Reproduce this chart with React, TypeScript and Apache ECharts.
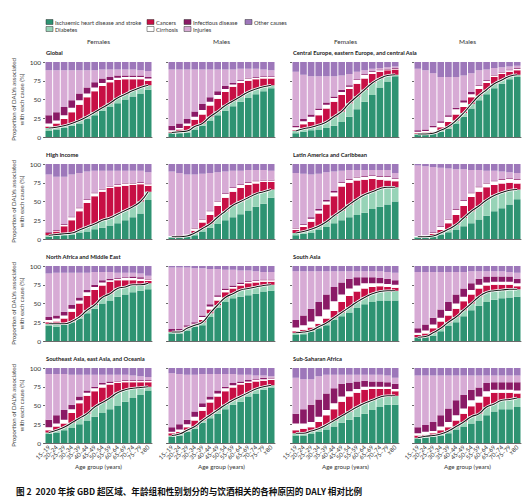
import React, { useEffect, useRef } from "react";
import * as echarts from "echarts";

const AGES = ["15–19","20–24","25–29","30–34","35–39","40–44","45–49","50–54","55–59","60–64","65–69","70–74","75–79","≥80"];
const CAUSES = ["Ischaemic heart disease and stroke","Diabetes","Cancers","Cirrhosis","Infectious disease","Injuries","Other causes"];
const COLORS = ["#2e9372","#97d3b7","#c70f45","#ffffff","#8a1a66","#d7abd5","#9d77ba"];
const SEXES = ["Females","Males"];
const REGIONS = ["Global","Central Europe, eastern Europe, and central Asia","High income","Latin America and Caribbean","North Africa and Middle East","South Asia","Southeast Asia, east Asia, and Oceania","Sub-Saharan Africa"];

// Cumulative tops (%), per age group:
// [IHD & stroke, +Diabetes, +Cancers, +Cirrhosis, +Infectious, +Injuries]; Other causes fill to 100
const GLOBAL_F = [
  [8,10,12,15,18,24,29,35,40,45,50,54,58,63],
  [12,13,15,18,22,27,33,39,45,52,57,62,66,69],
  [14,18,24,33,43,53,61,68,73,76,77,77,77,75],
  [18,22,29,39,49,58,66,72,76,79,80,80,80,78],
  [29,33,40,49,58,66,73,78,80,82,82,82,82,80],
  [89,89,89,89,89,89,89,90,90,90,90,90,89,88],
];
const GLOBAL_M = [
  [5,5,6,10,15,22,29,35,41,47,52,57,61,65],
  [6,7,8,14,18,27,34,42,48,54,60,64,67,69],
  [7,10,15,23,30,42,51,60,67,72,75,77,78,78],
  [9,12,18,27,36,47,56,64,70,75,78,79,80,80],
  [15,18,24,34,44,53,61,68,72,76,79,80,81,81],
  [90,90,90,90,90,90,90,90,90,91,91,91,90,89],
];
const CEECA_F = [
  [5,7,9,10,12,15,20,27,37,47,56,66,74,81],
  [8,11,13,16,20,27,34,45,54,63,72,78,82,83],
  [9,17,20,29,38,47,56,64,71,78,84,87,89,90],
  [13,21,27,36,43,52,60,67,76,83,87,89,90,91],
  [15,24,30,38,46,54,63,69,77,84,88,90,91,92],
  [87,83,81,81,81,81,82,84,87,89,91,92,93,94],
];
const CEECA_M = [
  [3,3,4,7,11,18,27,38,49,57,65,71,77,80],
  [4,4,5,9,14,22,32,44,55,63,71,76,81,83],
  [5,6,7,13,20,30,40,53,64,72,80,84,87,89],
  [7,8,13,19,27,37,46,57,68,75,82,86,89,91],
  [9,10,15,21,29,39,49,60,69,76,83,87,90,92],
  [91,89,85,80,80,80,82,85,89,90,92,93,94,95],
];
const HI_F = [
  [3,4,5,6,8,10,13,15,18,21,25,29,34,52],
  [5,6,7,8,12,16,20,25,28,33,38,43,50,63],
  [8,10,17,25,37,48,57,63,68,70,71,72,73,71],
  [8,11,19,29,41,52,61,66,70,72,74,74,75,73],
  [9,12,20,30,42,53,62,67,71,73,75,75,76,74],
  [86,83,83,86,88,90,91,91,91,91,91,91,91,89],
];
const HI_M = [
  [2,2,3,5,10,15,20,25,29,33,38,43,47,55],
  [3,3,4,8,14,20,29,37,45,50,55,60,63,66],
  [3,3,5,11,22,32,44,55,63,68,72,74,76,76],
  [4,4,6,14,26,37,50,60,68,72,75,77,78,78],
  [4,5,6,15,27,38,51,61,69,73,76,78,79,79],
  [90,88,86,86,87,88,89,90,91,91,92,92,92,91],
];
const LAC_F = [
  [5,7,8,12,16,21,25,29,32,35,40,43,46,50],
  [8,10,13,17,23,31,38,46,53,59,63,67,69,69],
  [12,16,23,34,46,57,70,75,78,79,80,79,78,77],
  [14,19,27,38,50,62,75,79,82,83,84,83,83,80],
  [15,20,29,40,52,64,76,80,83,84,85,84,84,81],
  [88,87,86,87,89,90,91,92,92,92,92,92,92,88],
];
const LAC_M = [
  [2,2,3,6,9,12,17,21,26,31,37,41,46,53],
  [3,3,4,8,13,19,28,37,44,52,58,62,65,66],
  [3,4,7,12,21,32,44,56,63,69,72,74,75,74],
  [4,5,8,16,26,39,51,61,69,74,77,79,80,79],
  [4,5,9,17,27,40,52,62,70,75,78,80,81,80],
  [98,97,96,95,94,93,93,92,92,91,91,90,89,88],
];
const NAME_F = [
  [20,19,22,25,30,37,43,50,54,59,62,65,67,69],
  [23,23,23,26,32,41,48,58,63,70,72,75,75,77],
  [25,26,30,39,50,60,68,74,79,81,81,81,80,80],
  [28,30,34,43,54,65,72,78,81,83,84,84,83,82],
  [32,34,39,48,58,68,75,81,83,84,85,86,85,83],
  [90,91,91,91,91,91,92,92,92,91,91,91,90,87],
];
const NAME_M = [
  [10,10,14,19,21,32,44,52,57,59,61,63,66,67],
  [12,12,17,21,25,37,48,58,63,68,70,72,74,75],
  [13,13,18,22,28,42,54,65,70,74,77,78,79,79],
  [13,14,19,23,32,46,59,68,72,76,79,80,81,81],
  [16,16,21,25,34,49,61,70,74,78,80,81,82,82],
  [98,98,98,97,97,96,96,95,95,94,94,93,92,92],
];
const SA_F = [
  [8,9,12,17,21,28,33,38,44,49,52,54,54,54],
  [11,12,14,19,24,31,38,45,52,58,63,66,67,67],
  [13,15,18,23,30,40,52,60,66,70,72,73,72,71],
  [18,21,26,33,42,53,62,70,74,77,77,77,76,75],
  [28,34,43,52,62,72,78,83,85,85,85,84,83,81],
  [93,93,93,93,93,93,93,93,93,93,93,93,92,91],
];
const SA_M = [
  [4,5,7,13,20,25,33,41,47,52,55,57,58,59],
  [5,6,11,17,25,32,41,50,59,65,67,68,69,69],
  [8,10,17,26,34,43,53,62,70,74,75,75,75,73],
  [11,14,22,31,40,50,59,68,75,78,79,79,79,77],
  [17,22,31,42,52,62,70,77,83,86,86,86,86,83],
  [92,92,92,92,92,92,92,93,93,93,93,93,92,91],
];
const SEAO_F = [
  [12,14,17,20,25,30,35,40,45,50,55,60,64,70],
  [14,17,21,27,33,39,48,54,60,67,71,73,74,75],
  [17,22,26,40,53,63,69,74,78,80,81,81,81,81],
  [21,26,31,45,57,67,73,78,80,82,83,83,83,83],
  [31,37,44,51,62,70,75,80,82,83,84,84,84,84],
  [92,92,92,91,91,91,91,91,91,91,91,90,89,88],
];
const SEAO_M = [
  [8,10,15,19,27,33,39,45,51,55,62,66,71,74],
  [10,12,17,22,30,37,44,51,57,62,67,72,75,77],
  [13,15,21,30,43,54,62,69,74,78,80,82,83,84],
  [15,18,25,35,48,58,66,73,77,80,82,84,85,86],
  [21,25,31,42,53,62,70,75,80,82,84,85,87,87],
  [93,92,91,91,92,92,92,92,92,91,91,90,90,89],
];
const SSA_F = [
  [10,10,12,15,18,22,27,31,35,39,44,48,51,51],
  [13,13,16,19,24,30,36,42,48,53,57,61,63,63],
  [17,19,21,28,37,45,55,62,67,71,72,72,72,69],
  [26,26,28,35,44,53,62,69,72,75,75,75,75,72],
  [39,45,51,58,66,73,79,80,82,83,82,82,81,79],
  [87,85,85,89,91,91,91,91,91,91,91,91,90,87],
];
const SSA_M = [
  [6,7,8,10,13,18,22,26,30,37,42,45,45,48],
  [7,9,10,12,16,22,28,35,39,48,52,57,58,60],
  [10,11,13,17,21,30,39,49,54,62,67,67,67,66],
  [13,15,16,22,28,37,46,57,62,69,71,71,71,70],
  [21,24,28,37,46,57,64,71,74,80,81,81,81,81],
  [90,90,90,90,90,90,90,90,90,90,90,90,90,90],
];

// panel order: row by row, 4 columns (F, M, F, M)
const PANEL_DATA = [GLOBAL_F, GLOBAL_M, CEECA_F, CEECA_M, HI_F, HI_M, LAC_F, LAC_M, NAME_F, NAME_M, SA_F, SA_M, SEAO_F, SEAO_M, SSA_F, SSA_M];

const FONT = "Lato, 'Noto Sans', sans-serif";
const COL_LEFT = [45, 168, 292, 414];
const ROW_TOP = [62, 164, 266, 368];
const PW = 107;
const PH = 75;

function buildOption() {
  const grid: any[] = [];
  const xAxis: any[] = [];
  const yAxis: any[] = [];
  const series: any[] = [];
  PANEL_DATA.forEach((tops, p) => {
    const row = Math.floor(p / 4);
    const col = p % 4;
    grid.push({ left: COL_LEFT[col], top: ROW_TOP[row], width: PW, height: PH, containLabel: false });
    xAxis.push({
      gridIndex: p, type: "category", data: AGES,
      axisLine: { lineStyle: { color: "#444", width: 0.8 } },
      axisTick: { length: 2, alignWithLabel: true, lineStyle: { color: "#444", width: 0.8 } },
      axisLabel: row === 3 ? { interval: 0, rotate: 45, fontSize: 6, color: "#333", margin: 3, fontFamily: FONT } : { show: false },
      name: row === 3 ? "Age group (years)" : "",
      nameLocation: "middle", nameGap: 19,
      nameTextStyle: { fontSize: 6.2, color: "#333", fontFamily: FONT },
    });
    yAxis.push({
      gridIndex: p, type: "value", min: 0, max: 100, interval: 25,
      axisLine: { show: false },
      axisTick: { show: true, length: 2, lineStyle: { color: "#444", width: 0.8 } },
      splitLine: { show: false },
      axisLabel: col === 0 ? { fontSize: 6.5, color: "#333", margin: 4, fontFamily: FONT } : { show: false },
      name: col === 0 ? "Proportion of DALYs associated\nwith each cause (%)" : "",
      nameLocation: "middle", nameGap: 16,
      nameTextStyle: { fontSize: 6, color: "#444", lineHeight: 8, fontFamily: FONT },
    });
    CAUSES.forEach((c, k) => {
      const vals = AGES.map((_, i) => {
        const top = k < 6 ? tops[k][i] : 100;
        const bottom = k === 0 ? 0 : tops[k - 1][i];
        return Math.max(0, top - bottom);
      });
      series.push({
        type: "bar", name: c, xAxisIndex: p, yAxisIndex: p, stack: "s" + p,
        data: vals, barCategoryGap: "13%", itemStyle: { color: COLORS[k] }, silent: true,
      });
    });
    series.push({
      type: "line", xAxisIndex: p, yAxisIndex: p, data: tops[1], smooth: true, symbol: "none",
      lineStyle: { color: "#ffffff", width: 2.6 }, z: 5, silent: true,
    });
    series.push({
      type: "line", xAxisIndex: p, yAxisIndex: p, data: tops[1], smooth: true, symbol: "none",
      lineStyle: { color: "#1a1a1a", width: 1.1 }, z: 6, silent: true,
    });
  });

  const graphics: any[] = [];
  const txt = (text: string, x: number, y: number, o: any = {}) => ({
    type: "text", x, y, silent: true,
    style: { text, fill: o.fill || "#222", fontSize: o.fontSize || 6.5, fontWeight: o.fontWeight || "normal",
      fontFamily: o.fontFamily || FONT, align: o.align || "left", textAlign: o.align || "left",
      verticalAlign: "middle", textVerticalAlign: "middle" },
  });
  // legend
  const legendPos = [
    [46, 22], [46, 29], [147, 22], [147, 29], [184, 22], [184, 29], [245, 22],
  ];
  CAUSES.forEach((c, k) => {
    const [x, y] = legendPos[k];
    graphics.push({ type: "rect", shape: { x: x, y: y - 2.5, width: 7, height: 5 }, silent: true,
      style: { fill: COLORS[k], stroke: "#333", lineWidth: 0.5 } });
    graphics.push(txt(c, x + 9, y, { fontSize: 5.7, fill: "#333" }));
  });
  // sex headers
  [0, 1, 2, 3].forEach((col) => {
    graphics.push(txt(SEXES[col % 2], COL_LEFT[col] + PW / 2, 41, { align: "center", fontSize: 6.5, fill: "#333" }));
  });
  // region titles
  REGIONS.forEach((r, i) => {
    const row = Math.floor(i / 2);
    const col = (i % 2) * 2;
    graphics.push(txt(r, COL_LEFT[col] + 1, ROW_TOP[row] - 10, { fontSize: 5.8, fontWeight: "bold", fill: "#222" }));
  });
  // caption
  graphics.push(txt("图 2  2020 年按 GBD 超区域、年龄组和性别划分的与饮酒相关的各种原因的 DALY 相对比例", 16, 491,
    { fontSize: 8.6, fontWeight: "bold", fill: "#111", fontFamily: "'Noto Sans CJK SC', 'Noto Sans', sans-serif" }));

  return {
    animation: false,
    backgroundColor: "#ffffff",
    grid, xAxis, yAxis, series,
    graphic: graphics,
  };
}

export default function App() {
  const ref = useRef<HTMLDivElement>(null);
  useEffect(() => {
    if (!ref.current) return;
    const chart = echarts.init(ref.current, null, { renderer: "svg" });
    chart.setOption(buildOption() as any);
    return () => chart.dispose();
  }, []);
  return <div ref={ref} style={{ position: "fixed", left: 0, top: 0, width: 530, height: 500 }} />;
}
